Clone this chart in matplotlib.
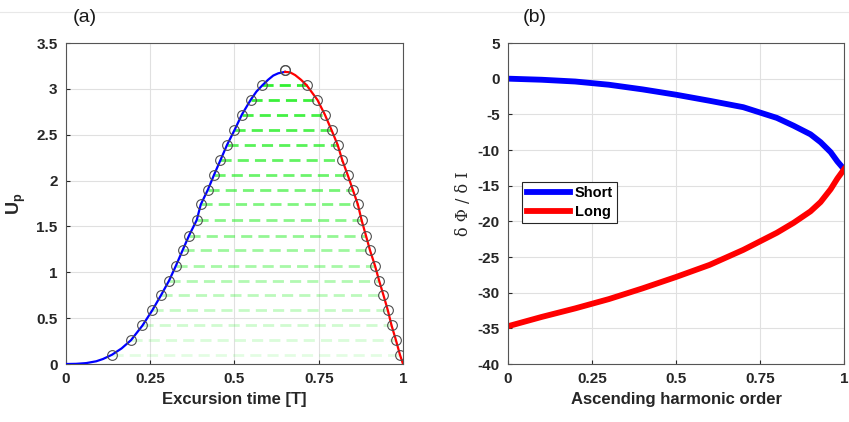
import numpy as np
import matplotlib.pyplot as plt
from matplotlib.lines import Line2D

plt.rcParams['font.family'] = ['Liberation Sans', 'DejaVu Sans']
plt.rcParams['font.weight'] = 'bold'
plt.rcParams['axes.unicode_minus'] = False
plt.rcParams['mathtext.fontset'] = 'custom'
plt.rcParams['mathtext.bf'] = 'Liberation Sans:bold'
plt.rcParams['mathtext.rm'] = 'Liberation Sans'

# (a) energy levels and excursion times of the short / long branches
levels = [0.10, 0.26, 0.42, 0.585, 0.75, 0.91, 1.07, 1.24, 1.40, 1.57,
          1.74, 1.90, 2.06, 2.22, 2.39, 2.55, 2.72, 2.88, 3.04, 3.21]
t_short = [0.136, 0.193, 0.227, 0.256, 0.282, 0.306, 0.326, 0.346, 0.365, 0.388,
           0.400, 0.421, 0.439, 0.458, 0.478, 0.500, 0.522, 0.548, 0.583, 0.650]
t_long = [0.991, 0.979, 0.966, 0.955, 0.942, 0.929, 0.917, 0.902, 0.890, 0.877,
          0.866, 0.851, 0.836, 0.820, 0.806, 0.788, 0.768, 0.746, 0.714, 0.650]

# continuous curves
curve_short_t = [0, 0.03, 0.06, 0.09, 0.11, 0.136, 0.165, 0.193, 0.227, 0.256, 0.282,
                 0.306, 0.326, 0.346, 0.365, 0.388, 0.400, 0.421, 0.439, 0.458,
                 0.478, 0.500, 0.522, 0.548, 0.565, 0.583, 0.600, 0.615, 0.630, 0.650]
curve_short_u = [0, 0.002, 0.01, 0.03, 0.055, 0.10, 0.17, 0.26, 0.42, 0.585, 0.75,
                 0.91, 1.07, 1.24, 1.40, 1.57, 1.74, 1.90, 2.06, 2.22,
                 2.39, 2.55, 2.72, 2.88, 2.97, 3.04, 3.10, 3.145, 3.17, 3.185]
curve_long_t = [0.650, 0.665, 0.680, 0.697, 0.714, 0.730, 0.746, 0.768, 0.788, 0.806,
                0.820, 0.836, 0.851, 0.866, 0.877, 0.890, 0.902, 0.917, 0.929,
                0.942, 0.955, 0.966, 0.979, 0.991, 1.0]
curve_long_u = [3.185, 3.18, 3.15, 3.10, 3.04, 2.96, 2.88, 2.72, 2.55, 2.39,
                2.22, 2.06, 1.90, 1.74, 1.57, 1.40, 1.24, 1.07, 0.91,
                0.75, 0.585, 0.42, 0.26, 0.10, 0]

# (b) phase derivative vs harmonic order
h_short = [0, 0.1, 0.2, 0.3, 0.4, 0.5, 0.6, 0.7, 0.8, 0.85, 0.9, 0.93, 0.96, 0.98, 1.0]
v_short = [0, -0.15, -0.4, -0.85, -1.5, -2.25, -3.1, -4.0, -5.5, -6.6, -7.8, -8.9,
           -10.3, -11.6, -12.7]
h_long = [0, 0.1, 0.2, 0.3, 0.4, 0.5, 0.6, 0.7, 0.8, 0.85, 0.9, 0.93, 0.96, 0.98, 1.0]
v_long = [-34.7, -33.4, -32.2, -30.9, -29.4, -27.8, -26.1, -24.0, -21.6, -20.2,
          -18.6, -17.3, -15.5, -14.0, -12.7]

fig = plt.figure(figsize=(8.49, 4.22), dpi=100)
ax1 = fig.add_axes([0.0777, 0.1374, 0.397, 0.7607])
ax2 = fig.add_axes([0.5984, 0.1374, 0.3958, 0.7607])

fig.add_artist(Line2D([0, 1], [1 - 12 / 422] * 2, color='#e8e8e8', lw=0.8))

# dashed connections, fading toward the bottom
n = len(levels) - 1
for i in range(n):
    a = 0.12 + 0.8 * i / (n - 1)
    ax1.plot([t_short[i], t_long[i]], [levels[i], levels[i]], '--', color='#1fee1f',
             alpha=a, lw=2, dashes=(4, 2.2), zorder=2)

ax1.plot(curve_short_t, curve_short_u, color='#0000ff', lw=1.6, zorder=3)
ax1.plot(curve_long_t, curve_long_u, color='#ff0000', lw=1.6, zorder=3)
ax1.plot(t_short, levels, 'o', mfc='none', mec='#4d4d4d', ms=7, mew=0.8, zorder=4)
ax1.plot(t_long, levels, 'o', mfc='none', mec='#4d4d4d', ms=7, mew=0.8, zorder=4)

ax1.set_xlim(0, 1)
ax1.set_ylim(0, 3.5)
ax1.set_xticks([0, 0.25, 0.5, 0.75, 1])
ax1.set_xticklabels(['0', '0.25', '0.5', '0.75', '1'])
ax1.set_yticks(np.arange(0, 3.51, 0.5))
ax1.set_yticklabels(['0', '0.5', '1', '1.5', '2', '2.5', '3', '3.5'])
ax1.set_xlabel('Excursion time [T]', fontsize=12, fontweight='bold', color='#262626')
ax1.set_ylabel(r'$\mathbf{U_p}$', fontsize=13, color='#262626', labelpad=6)

ax2.plot(h_short, v_short, color='#0000ff', lw=4.2, label='Short')
ax2.plot(h_long, v_long, color='#ff0000', lw=4.2, label='Long')
ax2.set_xlim(0, 1)
ax2.set_ylim(-40, 5)
ax2.set_xticks([0, 0.25, 0.5, 0.75, 1])
ax2.set_xticklabels(['0', '0.25', '0.5', '0.75', '1'])
ax2.set_yticks(np.arange(-40, 6, 5))
ax2.set_xlabel('Ascending harmonic order', fontsize=12, fontweight='bold', color='#262626')
ax2.set_ylabel('δ Φ / δ I', fontsize=11.5, fontweight='normal', family='DejaVu Serif',
               color='#262626')
leg = ax2.legend(loc='upper left', bbox_to_anchor=(0.042, 0.567), borderaxespad=0,
                 fancybox=False, edgecolor='#262626', framealpha=1,
                 prop={'weight': 'bold', 'size': 10.5}, handlelength=3.0,
                 handletextpad=0.3, borderpad=0.3, labelspacing=0.3)
leg.get_frame().set_linewidth(0.8)

for ax in (ax1, ax2):
    ax.grid(True, color='#e0e0e0', lw=0.8)
    ax.set_axisbelow(True)
    ax.tick_params(direction='in', length=3, labelsize=11, colors='#262626', pad=6)
    for lab in ax.get_xticklabels() + ax.get_yticklabels():
        lab.set_fontweight('bold')
    for s in ax.spines.values():
        s.set_color('#555555')
        s.set_linewidth(0.8)

fig.text(85 / 849, 1 - 17 / 422, '(a)', fontsize=14, fontweight='normal',
         ha='center', va='center', color='#1a1a1a')
fig.text(535 / 849, 1 - 17 / 422, '(b)', fontsize=14, fontweight='normal',
         ha='center', va='center', color='#1a1a1a')

plt.savefig('out.png', dpi=100)
